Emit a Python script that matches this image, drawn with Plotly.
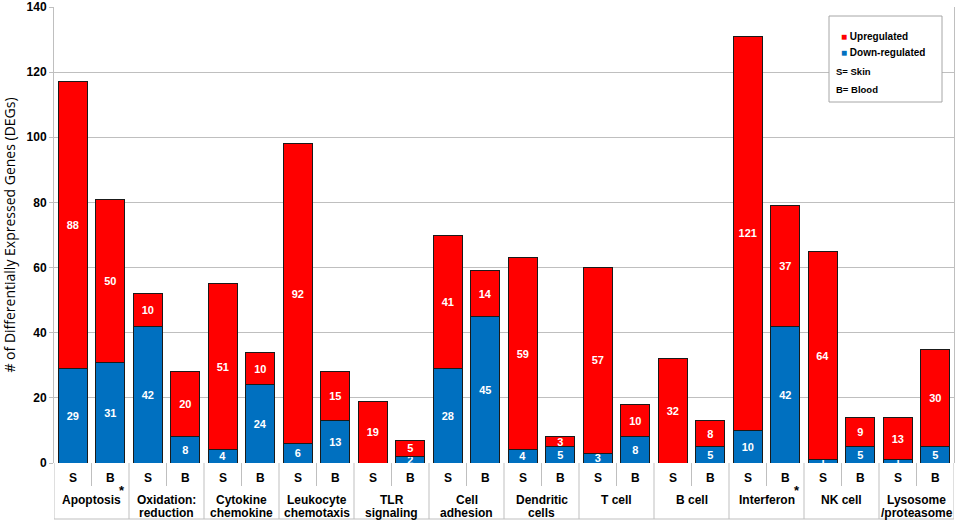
import plotly.graph_objects as go

# gene categories (two text lines each) and sample type per bar
cat_line1 = ["Apoptosis", "Oxidation:", "Cytokine", "Leukocyte", "TLR", "Cell",
             "Dendritic", "T cell", "B cell", "Interferon", "NK cell", "Lysosome"]
cat_line2 = ["", "reduction", "chemokine", "chemotaxis", "signaling", "adhesion",
             "cells", "", "", "", "", "/proteasome"]
starred = ["Apoptosis", "Interferon"]
samples = ["S", "B"]

# bar heights (S, B per category)
down = [29, 31, 42, 8, 4, 24, 6, 13, 0, 2, 29, 45,
        4, 5, 3, 8, 0, 5, 10, 42, 1, 5, 1, 5]
up = [88, 50, 10, 20, 51, 10, 92, 15, 19, 5, 41, 14,
      59, 3, 57, 10, 32, 8, 121, 37, 64, 9, 13, 30]
# numbers printed on the bars
down_labels = [29, 31, 42, 8, 4, 24, 6, 13, 0, 2, 28, 45,
               4, 5, 3, 8, 0, 5, 10, 42, 1, 5, 1, 5]
up_labels = up

RED = "#FF0000"
BLUE = "#0070C0"
GRID = "#BFBFBF"
FONT = "Liberation Sans, Arial, sans-serif"

W, H = 957, 522
ML, MR, MT, MB = 54, 3, 7, 59
PH = H - MT - MB
PW = W - ML - MR

def py(px_below):
    # pixels below the plot bottom -> paper y
    return -px_below / PH

def paper_x(px):
    return (px - ML) / PW

def paper_y(px):
    return (H - MB - px) / PH

n = len(down)
xs = list(range(n))

fig = go.Figure()
fig.add_trace(go.Bar(
    x=xs, y=down, name="Down-regulated",
    marker=dict(color=BLUE, line=dict(color="#1a1a1a", width=1)),
    text=down_labels, textposition="inside", insidetextanchor="middle",
    textangle=0,
    textfont=dict(color="white", size=11, family=FONT, weight="bold"),
    width=0.77, cliponaxis=False,
))
fig.add_trace(go.Bar(
    x=xs, y=up, name="Upregulated",
    marker=dict(color=RED, line=dict(color="#1a1a1a", width=1)),
    text=up_labels, textposition="inside", insidetextanchor="middle",
    textangle=0,
    textfont=dict(color="white", size=11, family=FONT, weight="bold"),
    width=0.77,
))

annotations = []
shapes = []
for i in xs:
    annotations.append(dict(
        x=i, y=0, xref="x", yref="paper", yshift=-15, yanchor="middle",
        text="<b>%s</b>" % samples[i % 2], showarrow=False,
        font=dict(size=12, family=FONT, color="black"),
    ))
for k in range(len(cat_line1)):
    xc = 2 * k + 0.5
    annotations.append(dict(
        x=xc, y=0, xref="x", yref="paper", yshift=-37, yanchor="middle",
        text="<b>%s</b>" % cat_line1[k], showarrow=False,
        font=dict(size=12, family=FONT, color="black"),
    ))
    if cat_line2[k]:
        annotations.append(dict(
            x=xc, y=0, xref="x", yref="paper", yshift=-50, yanchor="middle",
            text="<b>%s</b>" % cat_line2[k], showarrow=False,
            font=dict(size=12, family=FONT, color="black"),
        ))
    if cat_line1[k] in starred:
        annotations.append(dict(
            x=2 * k + 1.3, y=0, xref="x", yref="paper", yshift=-27, yanchor="middle",
            text="<b>*</b>", showarrow=False,
            font=dict(size=13, family=FONT, color="black"),
        ))
    # group divider (full height) and S/B divider (short)
    shapes.append(dict(type="line", xref="x", yref="paper",
                       x0=2 * k + 1.5, x1=2 * k + 1.5, y0=0, y1=py(56),
                       line=dict(color=GRID, width=1)))
    shapes.append(dict(type="line", xref="x", yref="paper",
                       x0=2 * k + 0.5, x1=2 * k + 0.5, y0=0, y1=py(23),
                       line=dict(color=GRID, width=1)))
# left border through the table and bottom border
shapes.append(dict(type="line", xref="x", yref="paper", x0=-0.5, x1=-0.5,
                   y0=0, y1=py(56), line=dict(color=GRID, width=1)))
shapes.append(dict(type="line", xref="x", yref="paper", x0=-0.5, x1=n - 0.5,
                   y0=py(56), y1=py(56), line=dict(color=GRID, width=1)))

# legend box
shapes.append(dict(type="rect", xref="paper", yref="paper",
                   x0=paper_x(829), x1=paper_x(942), y0=paper_y(102), y1=paper_y(16),
                   line=dict(color="#A6A6A6", width=1), fillcolor="white"))
legend_rows = [
    ('<span style="color:%s">■</span> <b>Upregulated</b>' % RED, 36),
    ('<span style="color:%s">■</span> <b>Down-regulated</b>' % BLUE, 53),
    ("<b>S= Skin</b>", 71),
    ("<b>B= Blood</b>", 89),
]
for j, (txt, ypx) in enumerate(legend_rows):
    annotations.append(dict(
        x=paper_x(839 if j < 2 else 834), y=paper_y(ypx), xref="paper", yref="paper",
        xanchor="left", yanchor="middle", text=txt, showarrow=False,
        font=dict(size=10 if j < 2 else 9.5, family=FONT, color="black"),
    ))

fig.update_layout(
    width=W, height=H,
    barmode="stack",
    showlegend=False,
    paper_bgcolor="white",
    plot_bgcolor="white",
    margin=dict(l=ML, r=MR, t=MT, b=MB, autoexpand=False),
    font=dict(family=FONT, color="black"),
    annotations=annotations,
    shapes=shapes,
    xaxis=dict(
        range=[-0.5, n - 0.5],
        showticklabels=False,
        showgrid=False,
        zeroline=False,
        showline=False,
        fixedrange=True,
        automargin=False,
    ),
    yaxis=dict(
        range=[0, 140],
        dtick=20,
        automargin=False,
        showgrid=True,
        gridcolor=GRID,
        gridwidth=1,
        zeroline=False,
        showline=True,
        linecolor=GRID,
        mirror=True,
        ticks="outside",
        ticklen=4,
        tickcolor=GRID,
        tickfont=dict(size=12, family=FONT, color="black", weight="bold"),
        title=dict(text="# of Differentially Expressed Genes (DEGs)",
                   font=dict(size=14, family="Open Sans, sans-serif", color="black"),
                   standoff=9),
    ),
    uniformtext=dict(minsize=11, mode="show"),
)

# drop the browser's default page margin so the figure fills the window
fig.write_html("out.html",
               config={"displayModeBar": False},
               post_script="document.body.style.margin='0';document.body.style.overflow='hidden';")
